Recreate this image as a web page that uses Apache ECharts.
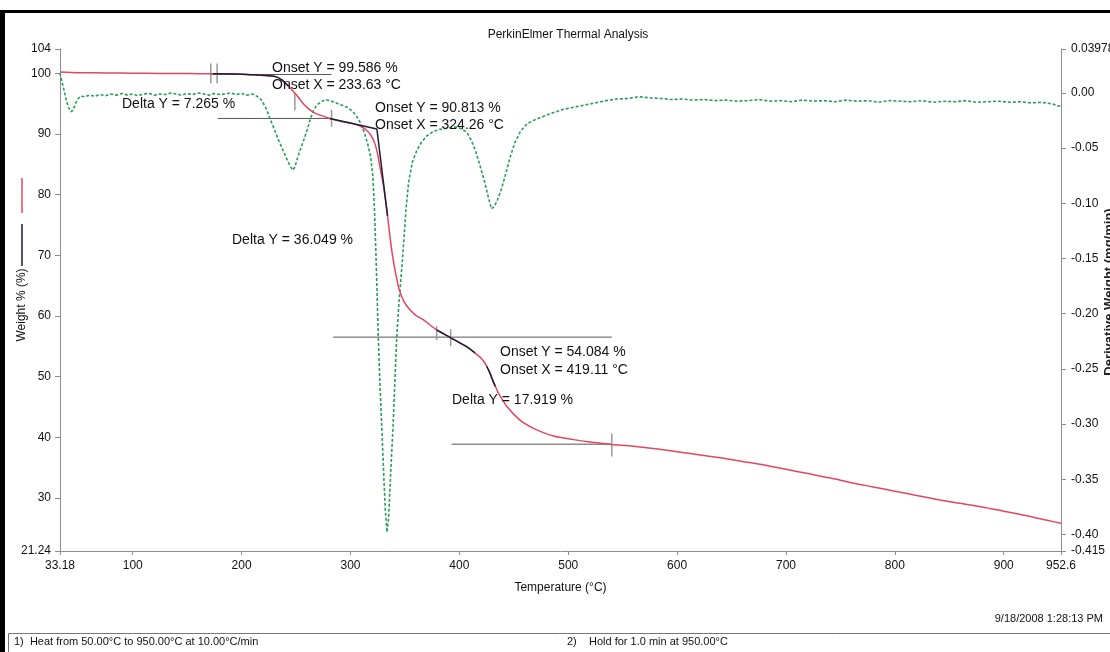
<!DOCTYPE html>
<html>
<head>
<meta charset="utf-8">
<script src="https://cdn.jsdelivr.net/npm/echarts@6/dist/echarts.min.js"></script>
<style>
  html, body { margin: 0; padding: 0; background: #fff; }
  #chart { width: 1110px; height: 652px; }
</style>
</head>
<body>
<div id="chart"></div>
<script>
// axis ticks
var tempTicks = [33.18, 100, 200, 300, 400, 500, 600, 700, 800, 900, 952.6];
var weightTicks = [21.24, 30, 40, 50, 60, 70, 80, 90, 100, 104];
var derivTicks = [0.03978, 0, -0.05, -0.10, -0.15, -0.20, -0.25, -0.30, -0.35, -0.40, -0.415];
var derivTickLabels = ['0.03978', '0.00', '-0.05', '-0.10', '-0.15', '-0.20', '-0.25', '-0.30', '-0.35', '-0.40', '-0.415'];

// weight % curve (red)
var weightTemp = [33.18, 50, 75, 100, 125, 150, 175, 200, 216, 225, 232, 237, 240, 243, 247, 250.5, 253.5, 256.5, 261, 265.7,
  272, 281, 291, 302.5, 309, 314.8, 319, 322.4, 325, 327, 330, 333, 335, 337, 339, 341.5, 344.8, 349, 354.6, 360,
  366.8, 373, 379.1, 386, 392.9, 400, 407, 414.3, 419, 422, 425.1, 428, 431, 433.5, 435.7, 439.5, 443.5, 451, 458.7, 470,
  486.3, 505, 520, 532, 540, 560, 580, 600, 620, 640, 660, 680, 700, 720, 740, 760, 780, 800, 820, 840,
  860, 880, 900, 920, 940, 952.6];
var weightValue = [100.2, 100.1, 100.05, 100.0, 99.98, 99.95, 99.9, 99.85, 99.7, 99.6, 99.4, 98.9, 98.4, 97.9, 97.1, 96.4, 95.7, 95.0, 94.2, 93.6,
  93.1, 92.55, 92.1, 91.7, 91.3, 90.6, 89.7, 88.4, 86.6, 84.6, 81.8, 78.0, 75.0, 72.0, 69.5, 67.0, 64.3, 62.4, 61.0, 60.1,
  59.4, 58.5, 57.7, 57.0, 56.3, 55.6, 54.9, 53.9, 53.2, 52.6, 51.7, 50.6, 49.2, 48.2, 47.3, 46.2, 45.1, 43.6, 42.4, 41.3,
  40.2, 39.6, 39.2, 38.95, 38.8, 38.5, 38.1, 37.6, 37.1, 36.6, 36.0, 35.4, 34.7, 34.0, 33.3, 32.5, 31.8, 31.1, 30.4, 29.7,
  29.1, 28.5, 27.8, 27.1, 26.3, 25.8];

// derivative weight curve (green)
var derivTemp = [33.18, 35, 37, 39, 41, 43, 45, 47, 49, 52, 56, 60, 65, 70, 75, 80, 85, 90, 95, 100,
  105, 110, 115, 120, 125, 130, 135, 140, 145, 150, 155, 160, 165, 170, 175, 180, 185, 190, 195, 200,
  205, 210, 214, 218, 222, 226, 230, 234, 238, 242, 245, 247, 249, 251, 254, 257, 260, 263, 266, 269,
  273, 277, 281, 285, 289, 293, 297, 301, 305, 309, 313, 316, 318.5, 320.5, 322, 323.5, 325.5, 327, 328.6, 330.5,
  332, 333.5, 335, 337, 339.2, 341, 342.4, 344.5, 347, 349, 351, 353.5, 357, 361, 365, 370, 376, 382, 388, 393,
  398, 403, 407, 411, 415, 419, 423, 426.5, 429.5, 432, 435, 438, 441, 444, 447, 451, 456, 462, 470, 478,
  486, 495, 505, 515, 525, 535, 545, 555, 565, 575, 585, 595, 605, 615, 625, 635, 645, 655, 665, 675,
  685, 695, 705, 715, 725, 735, 745, 755, 765, 775, 785, 795, 805, 815, 825, 835, 845, 855, 865, 875,
  885, 895, 905, 915, 925, 935, 945, 950, 952.6];
var derivValue = [0.018, 0.010, 0.002, -0.007, -0.013, -0.017, -0.016, -0.011, -0.006, -0.003, -0.0035, -0.002, -0.003, -0.0015, -0.0025, -0.001, -0.002, -0.0005, -0.002, -0.001,
  -0.0025, -0.001, -0.0005, -0.002, -0.001, -0.0015, 0.0, -0.001, -0.002, -0.0005, -0.0015, 0.0, -0.001, -0.002, -0.0005, -0.0015, -0.001, 0.0, -0.0015, -0.0005,
  -0.002, -0.001, -0.003, -0.006, -0.013, -0.023, -0.033, -0.043, -0.052, -0.061, -0.067, -0.070, -0.067, -0.060, -0.051, -0.043, -0.034, -0.024, -0.016, -0.011,
  -0.008, -0.006, -0.007, -0.0085, -0.010, -0.0115, -0.013, -0.016, -0.020, -0.027, -0.037, -0.047, -0.058, -0.075, -0.105, -0.150, -0.220, -0.262, -0.300, -0.345,
  -0.378, -0.398, -0.385, -0.342, -0.300, -0.255, -0.223, -0.190, -0.160, -0.134, -0.105, -0.080, -0.062, -0.052, -0.045, -0.039, -0.035, -0.033, -0.032, -0.031,
  -0.031, -0.033, -0.036, -0.043, -0.053, -0.066, -0.080, -0.094, -0.105, -0.103, -0.097, -0.089, -0.079, -0.068, -0.057, -0.045, -0.035, -0.028, -0.024, -0.021,
  -0.018, -0.015, -0.013, -0.011, -0.009, -0.007, -0.0055, -0.005, -0.0035, -0.0045, -0.005, -0.006, -0.0055, -0.0065, -0.006, -0.007, -0.0065, -0.0075, -0.007, -0.006,
  -0.0075, -0.007, -0.008, -0.0065, -0.0075, -0.007, -0.008, -0.0065, -0.0075, -0.007, -0.0085, -0.007, -0.0075, -0.008, -0.007, -0.0085, -0.0075, -0.008, -0.007, -0.0085,
  -0.008, -0.0075, -0.0085, -0.008, -0.009, -0.0085, -0.010, -0.012, -0.0115];

// analysis overlays on the weight curve (dark)
var darkSegments = [
  [[174, 99.9], [200, 99.85], [216, 99.7], [225, 99.6], [232, 99.4], [237, 98.9], [240, 98.4], [243, 97.9]],
  [[281, 92.55], [324.26, 90.813]],
  [[324.26, 90.813], [334, 76.5]],
  [[379.1, 57.7], [386, 57.0], [392.9, 56.3], [400, 55.6], [407, 54.9], [414.3, 53.9]],
  [[425.1, 51.7], [428, 50.6], [431, 49.2], [433, 48.4]]
];

// onset / delta guide lines and markers (grey)
var guideLines = [
  [[171.7, 99.8], [282.6, 99.8]],
  [[178.1, 92.55], [281, 92.55]],
  [[284.1, 56.5], [540, 56.5]],
  [[392.9, 38.85], [540, 38.85]]
];
var guideTicks = [
  [[171.7, 101.6], [171.7, 98.3]],
  [[177.5, 101.6], [177.5, 98.3]],
  [[248.9, 96.8], [248.9, 93.9]],
  [[282.6, 94.0], [282.6, 91.2]],
  [[379.1, 58.3], [379.1, 56.0]],
  [[392, 57.8], [392, 55.0]],
  [[540, 40.6], [540, 36.8]]
];

var noteTexts = ['Onset Y = 99.586 %', 'Onset X = 233.63 °C', 'Delta Y = 7.265 %',
  'Onset Y = 90.813 %', 'Onset X = 324.26 °C', 'Delta Y = 36.049 %',
  'Onset Y = 54.084 %', 'Onset X = 419.11 °C', 'Delta Y = 17.919 %'];
var notePos = [[272, 68], [272, 85], [122, 104], [375, 108], [375, 125], [232, 240], [500, 352], [500, 370], [452, 400]];

var FONT = '"Liberation Sans", Arial, sans-serif';

function zip(xs, ys) {
  return xs.map(function (x, i) { return [x, ys[i]]; });
}
function tickText(list, labels) {
  return function (v) {
    for (var i = 0; i < list.length; i++) {
      if (Math.abs(list[i] - v) < 1e-6) return labels[i];
    }
    return '';
  };
}

var chart = echarts.init(document.getElementById('chart'));

var series = [];
series.push({
  name: 'Derivative Weight', type: 'line', yAxisIndex: 1, silent: true,
  data: zip(derivTemp, derivValue), showSymbol: false, z: 2,
  lineStyle: { color: '#2a9d5a', width: 1.6, type: [3, 2] }
});
series.push({
  name: 'Weight %', type: 'line', yAxisIndex: 0, silent: true,
  data: zip(weightTemp, weightValue), showSymbol: false, z: 3,
  smooth: 0.3,
  lineStyle: { color: '#e2475f', width: 1.5 }
});
darkSegments.forEach(function (seg) {
  series.push({
    type: 'line', yAxisIndex: 0, silent: true, data: seg, showSymbol: false, z: 4,
    smooth: 0.3, lineStyle: { color: '#1d1d3a', width: 1.5 }
  });
});
guideLines.forEach(function (seg) {
  series.push({
    type: 'line', yAxisIndex: 0, silent: true, data: seg, showSymbol: false, z: 1,
    lineStyle: { color: '#555', width: 1 }
  });
});
guideTicks.forEach(function (seg) {
  series.push({
    type: 'line', yAxisIndex: 0, silent: true, data: seg, showSymbol: false, z: 1,
    lineStyle: { color: '#999', width: 1.5 }
  });
});

var graphics = [
  { type: 'rect', shape: { x: 0, y: 10, width: 1110, height: 3 }, style: { fill: '#000' } },
  { type: 'rect', shape: { x: 0, y: 10, width: 5, height: 642 }, style: { fill: '#000' } },
  { type: 'rect', shape: { x: 8.5, y: 633.5, width: 1110, height: 30 }, style: { fill: 'none', stroke: '#777', lineWidth: 1 } },
  { type: 'text', style: { text: 'PerkinElmer Thermal Analysis', x: 568, y: 35, textAlign: 'center', textVerticalAlign: 'middle', verticalAlign: 'middle', font: '12px ' + FONT, fill: '#111' } },
  { type: 'text', style: { text: '9/18/2008 1:28:13 PM', x: 1103, y: 619, textAlign: 'right', textVerticalAlign: 'middle', verticalAlign: 'middle', font: '11px ' + FONT, fill: '#111' } },
  { type: 'text', style: { text: '1)  Heat from 50.00°C to 950.00°C at 10.00°C/min', x: 14, y: 642, textVerticalAlign: 'middle', verticalAlign: 'middle', font: '11px ' + FONT, fill: '#111' } },
  { type: 'text', style: { text: '2)    Hold for 1.0 min at 950.00°C', x: 567, y: 642, textVerticalAlign: 'middle', verticalAlign: 'middle', font: '11px ' + FONT, fill: '#111' } },
  { type: 'line', shape: { x1: 22, y1: 178, x2: 22, y2: 213 }, style: { stroke: '#e2475f', lineWidth: 1.5 } },
  { type: 'line', shape: { x1: 22, y1: 224, x2: 22, y2: 266 }, style: { stroke: '#1d1d3a', lineWidth: 1.5 } },
  { type: 'text', x: 22, y: 305, rotation: Math.PI / 2, style: { text: 'Weight % (%)', x: 0, y: 0, textAlign: 'center', textVerticalAlign: 'middle', verticalAlign: 'middle', font: '12px ' + FONT, fill: '#111' } },
  { type: 'text', x: 1109, y: 292, rotation: Math.PI / 2, style: { text: 'Derivative Weight (mg/min)', x: 0, y: 0, textAlign: 'center', textVerticalAlign: 'middle', verticalAlign: 'middle', font: 'bold 13px ' + FONT, fill: '#222' } }
];
noteTexts.forEach(function (t, i) {
  graphics.push({
    type: 'text', z: 10,
    style: { text: t, x: notePos[i][0], y: notePos[i][1], textVerticalAlign: 'middle', verticalAlign: 'middle', font: '14px ' + FONT, fill: '#111' }
  });
});

var axisColor = '#8c8c8c';

var option = {
  animation: false,
  backgroundColor: '#fff',
  textStyle: { fontFamily: FONT },
  grid: { left: 60, right: 49, top: 49, bottom: 101, containLabel: false, outerBoundsMode: 'none' },
  xAxis: {
    type: 'value', min: 33.18, max: 952.6,
    name: 'Temperature (°C)', nameLocation: 'middle', nameGap: 31,
    nameTextStyle: { fontSize: 12, color: '#111', fontFamily: FONT },
    axisLine: { show: true, onZero: false, lineStyle: { color: axisColor } },
    axisTick: { show: true, customValues: tempTicks, length: 4, lineStyle: { color: axisColor } },
    axisLabel: { customValues: tempTicks, fontSize: 12, color: '#111', margin: 9, fontFamily: FONT,
      formatter: function (v) { return String(v); } },
    splitLine: { show: false }
  },
  yAxis: [{
    type: 'value', min: 21.24, max: 104, position: 'left',
    axisLine: { show: true, lineStyle: { color: axisColor } },
    axisTick: { show: true, customValues: weightTicks, length: 5, lineStyle: { color: axisColor } },
    axisLabel: { customValues: weightTicks, fontSize: 12, color: '#111', margin: 9, fontFamily: FONT,
      formatter: function (v) { return String(v); } },
    splitLine: { show: false }
  }, {
    type: 'value', min: -0.415, max: 0.03978, position: 'right',
    axisLine: { show: true, lineStyle: { color: axisColor } },
    axisTick: { show: true, customValues: derivTicks, length: 5, lineStyle: { color: axisColor } },
    axisLabel: { customValues: derivTicks, fontSize: 12, color: '#111', margin: 10, fontFamily: FONT,
      formatter: tickText(derivTicks, derivTickLabels) },
    splitLine: { show: false }
  }],
  series: series,
  graphic: graphics
};

chart.setOption(option);
</script>
</body>
</html>
